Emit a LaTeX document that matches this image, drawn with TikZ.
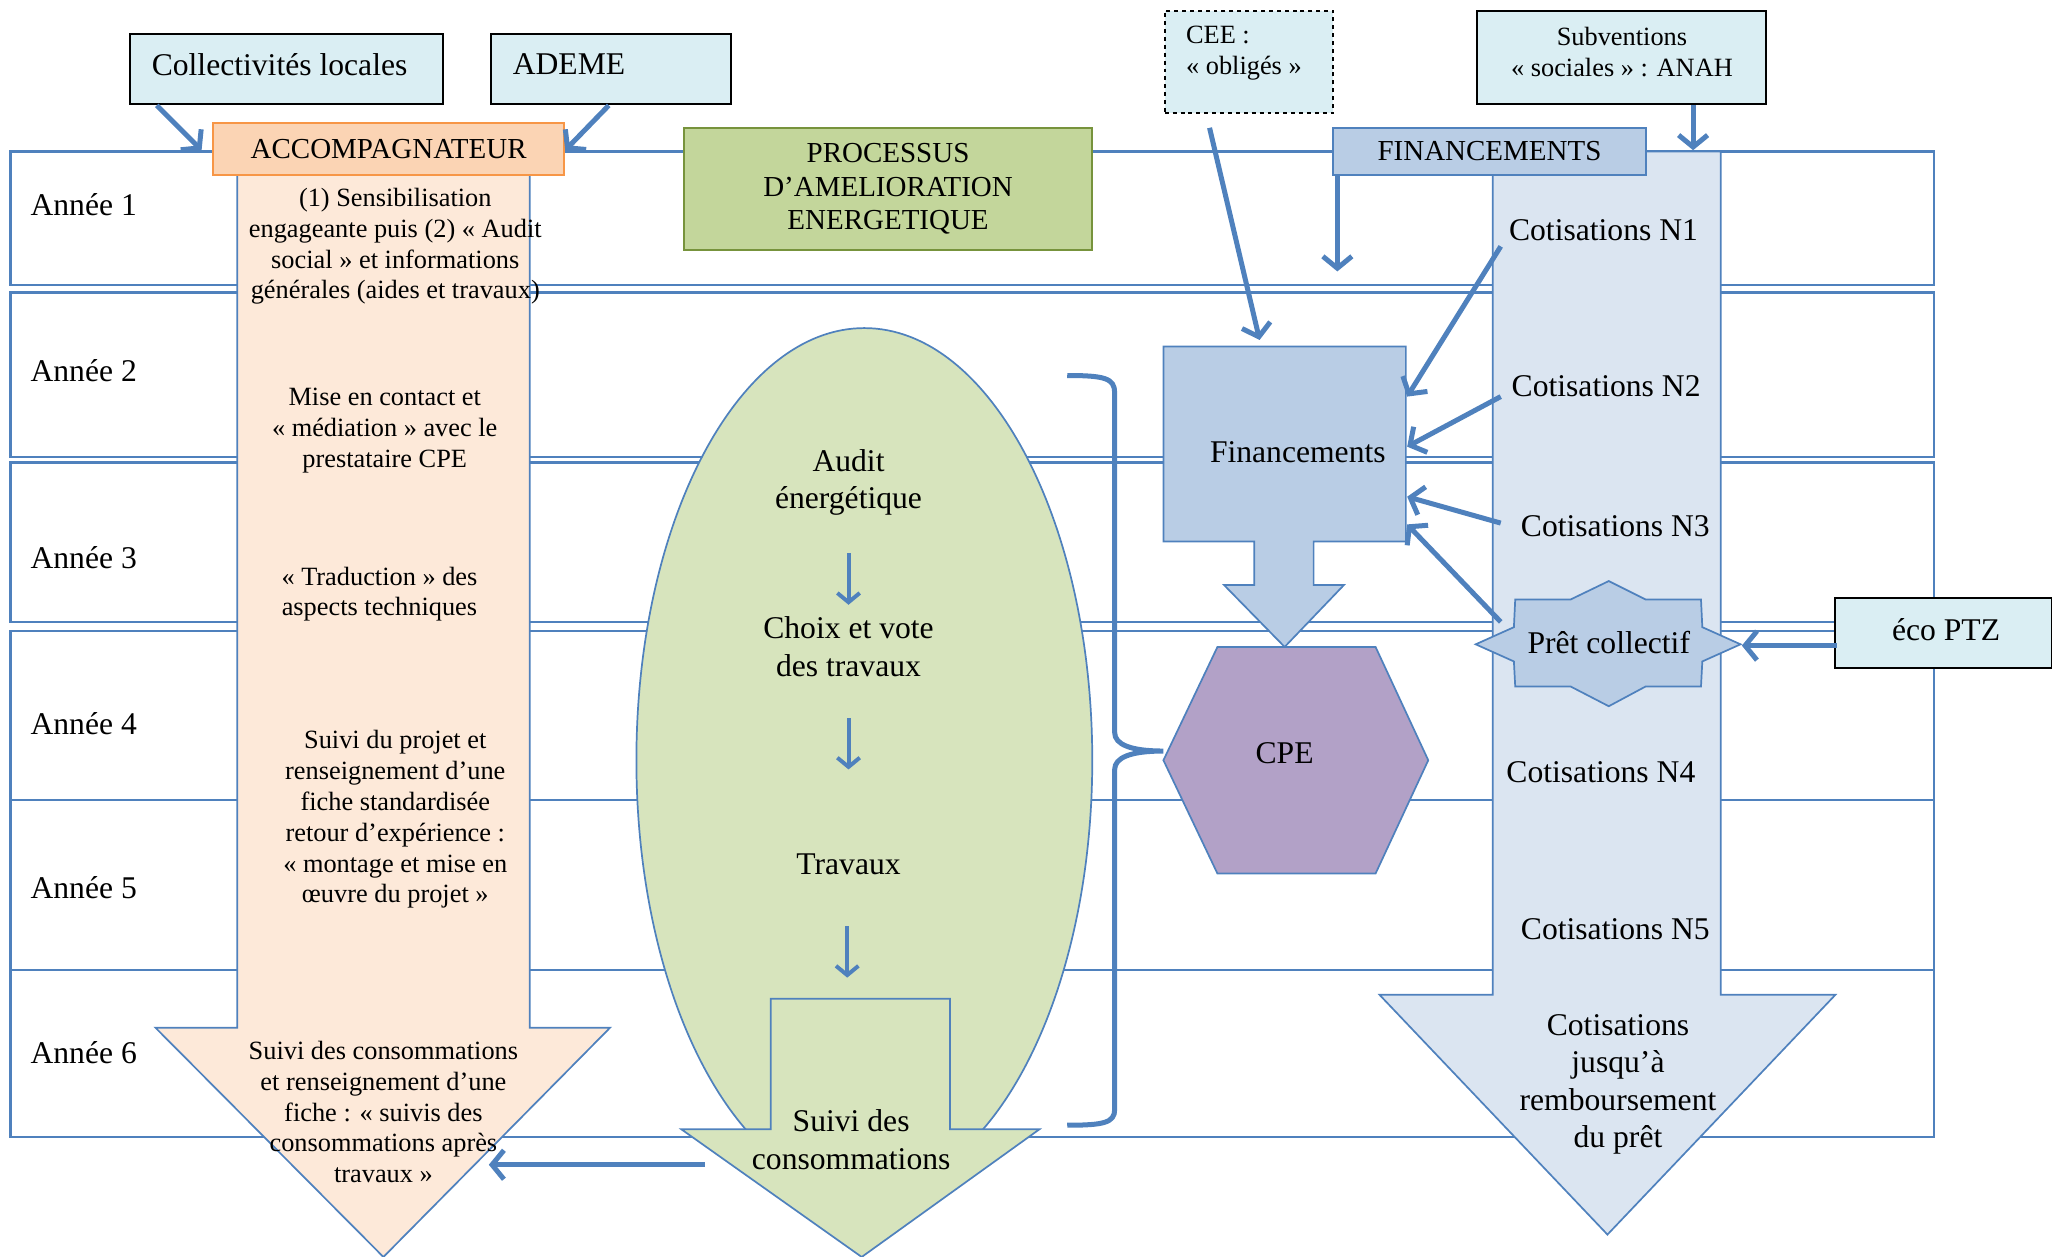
\documentclass[tikz,border=0pt]{standalone}
\usepackage{fontspec}
\setmainfont{Liberation Serif}
\usetikzlibrary{arrows.meta}
\definecolor{myblue}{HTML}{4F81BD}
\definecolor{extfill}{HTML}{DAEEF3}
\definecolor{peachH}{HTML}{FBD4B4}
\definecolor{orangeB}{HTML}{F79646}
\definecolor{peachL}{HTML}{FDE9D9}
\definecolor{greenH}{HTML}{C3D69B}
\definecolor{greenB}{HTML}{77933C}
\definecolor{greenL}{HTML}{D7E4BD}
\definecolor{finB}{HTML}{B9CDE5}
\definecolor{finL}{HTML}{DBE5F1}
\definecolor{cpeF}{HTML}{B2A1C7}
\begin{document}
\begin{tikzpicture}[x=1pt,y=-1pt,
  bigtxt/.style={font=\fontsize{24}{28.5}\selectfont, inner sep=0pt},
  smalltxt/.style={font=\fontsize{20}{23.4}\selectfont, inner sep=0pt, align=center},
  hdrtxt/.style={font=\fontsize{22}{25.5}\selectfont, align=center},
  yearbox/.style={draw=myblue, line width=1.6pt},
  shapeline/.style={draw=myblue, line width=1.3pt},
  extbox/.style={fill=extfill, draw=black, line width=1.5pt},
  conn/.style={draw=myblue, line width=3.8pt, -{Straight Barb[length=9pt,width=22pt]}},
  smallconn/.style={draw=myblue, line width=3pt, -{Straight Barb[length=7pt,width=17pt]}},
  brack/.style={draw=myblue, line width=3.8pt}
]
\useasboundingbox (0,0) rectangle (1565,954);

% year rows
\draw[yearbox] (8,115) rectangle (1468,216);
\draw[yearbox] (8,222) rectangle (1468,347);
\draw[yearbox] (8,351) rectangle (1468,472);
\draw[yearbox] (8,479) rectangle (1468,607);
\draw[yearbox] (8,607) rectangle (1468,736);
\draw[yearbox] (8,736) rectangle (1468,863);
\node[bigtxt, anchor=west] (y1) at (23,155) {Année 1};
\node[bigtxt, anchor=west] (y2) at (23,281) {Année 2};
\node[bigtxt, anchor=west] (y3) at (23,423) {Année 3};
\node[bigtxt, anchor=west] (y4) at (23,549) {Année 4};
\node[bigtxt, anchor=west] (y5) at (23,674) {Année 5};
\node[bigtxt, anchor=west] (y6) at (23,799) {Année 6};

% accompagnateur arrow
\draw[shapeline, fill=peachL] (180,132) -- (402,132) -- (402,780) -- (463,780) -- (291,954) -- (118,780) -- (180,780) -- cycle;
\node[smalltxt] (acc1) at (300,187) {(1) Sensibilisation\\engageante puis (2) « Audit\\social » et informations\\générales (aides et travaux)};
\node[smalltxt] (acc2) at (292,327) {Mise en contact et\\« médiation » avec le\\prestataire CPE};
\node[smalltxt] (acc3) at (288,451) {« Traduction » des\\aspects techniques};
\node[smalltxt] (acc4) at (300,622) {Suivi du projet et\\renseignement d’une\\fiche standardisée\\retour d’expérience :\\« montage et mise en\\œuvre du projet »};
\node[smalltxt] (acc5) at (291,844) {Suivi des consommations\\et renseignement d’une\\fiche : « suivis des\\consommations après\\travaux »};

% process ellipse
\draw[shapeline, fill=greenL] (656,577) ellipse [x radius=173, y radius=328];
\node[bigtxt, align=center] (audit) at (644,366) {Audit\\énergétique};
\node[bigtxt, align=center] (choix) at (644,491) {Choix et vote\\des travaux};
\node[bigtxt] (trav) at (644,656) {Travaux};
\coordinate (e1s) at (644,420); \coordinate (e1e) at (644,459);
\coordinate (e2s) at (644,545); \coordinate (e2e) at (644,584);
\coordinate (e3s) at (643,703); \coordinate (e3e) at (643,742);
\draw[smallconn] (e1s) -- (e1e);
\draw[smallconn] (e2s) -- (e2e);
\draw[smallconn] (e3s) -- (e3e);

% green arrow suivi
\draw[shapeline, fill=greenL] (585,758) -- (721,758) -- (721,857) -- (789,857) -- (654,954) -- (517,857) -- (585,857) -- cycle;
\node[bigtxt, align=center] (suivi) at (646,865) {Suivi des\\consommations};
\coordinate (s2a) at (535,884);
\coordinate (s2b) at (371,884);
\draw[conn] (s2a) -- (s2b);

% financements big arrow
\draw[shapeline, fill=finL] (1133,115) -- (1306,115) -- (1306,755) -- (1393,755) -- (1220,937) -- (1047,755) -- (1133,755) -- cycle;
\node[bigtxt] (n1) at (1217,175) {Cotisations N1};
\node[bigtxt] (n2) at (1219,293) {Cotisations N2};
\node[bigtxt] (n3) at (1226,399) {Cotisations N3};
\node[bigtxt] (n4) at (1215,586) {Cotisations N4};
\node[bigtxt] (n5) at (1226,705) {Cotisations N5};
\node[bigtxt, align=center] (nf) at (1228,823) {Cotisations\\jusqu’à\\remboursement\\du prêt};

% financements box with arrow
\draw[shapeline, fill=finB] (883,263) -- (1067,263) -- (1067,411) -- (997,411) -- (997,444) -- (1020,444) -- (975,491) -- (929,444) -- (952,444) -- (952,411) -- (883,411) -- cycle;
\node[bigtxt] (fin) at (985,343) {Financements};

% CPE hexagon
\draw[shapeline, fill=cpeF] (924,491) -- (1044,491) -- (1084,577) -- (1044,663) -- (924,663) -- (883,577) -- cycle;
\node[bigtxt] (cpe) at (975,572) {CPE};

% pret collectif star
\draw[shapeline, fill=finB] (1221,441) -- (1249,455) -- (1291,455) -- (1292,476) -- (1321,489) -- (1292,502) -- (1291,521) -- (1249,521) -- (1221,536) -- (1192,521) -- (1150,521) -- (1149,502) -- (1120,489) -- (1149,476) -- (1150,455) -- (1192,455) -- cycle;
\node[bigtxt] (pret) at (1221,488) {Prêt collectif};

% bracket
\draw[brack] (810,285) .. controls (838,285) and (846,287) .. (846,298) -- (846,556) .. controls (846,565) and (858,570) .. (883,570) .. controls (858,570) and (846,575) .. (846,584) -- (846,842) .. controls (846,852) and (838,854) .. (810,854);

% headers
\node[hdrtxt, fill=peachH, draw=orangeB, line width=1.5pt, minimum width=266pt, minimum height=39pt, inner sep=0pt] (acch) at (295,113) {ACCOMPAGNATEUR};
\node[hdrtxt, fill=greenH, draw=greenB, line width=1.5pt, minimum width=310pt, minimum height=93pt, inner sep=0pt] (proch) at (674,143.5) {PROCESSUS\\D’AMELIORATION\\ENERGETIQUE};
\node[hdrtxt, fill=finB, draw=myblue, line width=1.5pt, minimum width=237pt, minimum height=35pt, inner sep=0pt] (finh) at (1130.5,115) {FINANCEMENTS};

% external boxes
\node[extbox, minimum width=237pt, minimum height=53pt, inner sep=0pt] (coll) at (217.5,52.5) {};
\node[bigtxt, anchor=west] (collt) at (115,49) {Collectivités locales};
\node[extbox, minimum width=182pt, minimum height=53pt, inner sep=0pt] (ademe) at (464,52.5) {};
\node[bigtxt, anchor=west] (ademet) at (389,49) {ADEME};
\node[extbox, dashed, minimum width=128pt, minimum height=78pt, inner sep=0pt] (ceeb) at (948,47) {};
\node[smalltxt, align=left, anchor=west] (ceet) at (900,40) {CEE :\\« obligés »};
\node[extbox, minimum width=219pt, minimum height=71pt, inner sep=0pt] (subb) at (1230.5,43.5) {};
\node[smalltxt] (subt) at (1231,39.5) {Subventions\\« sociales » : ANAH};
\node[extbox, minimum width=164pt, minimum height=53pt, inner sep=0pt] (ptz) at (1475,480.5) {};
\node[bigtxt] (ptzt) at (1477,478) {éco PTZ};

% connectors
\coordinate (a1s) at (119,80); \coordinate (a1e) at (153,114);
\coordinate (a2s) at (462,80); \coordinate (a2e) at (429,114);
\coordinate (a3s) at (918,97); \coordinate (a3e) at (956,258);
\coordinate (a4s) at (1015,133); \coordinate (a4e) at (1015,206);
\coordinate (a5s) at (1285,80); \coordinate (a5e) at (1285,114);
\coordinate (b1s) at (1139,187); \coordinate (b1e) at (1068,301);
\coordinate (b2s) at (1139,301); \coordinate (b2e) at (1068,339);
\coordinate (b3s) at (1139,397); \coordinate (b3e) at (1068,377);
\coordinate (b4s) at (1139,472); \coordinate (b4e) at (1068,398);
\coordinate (p1s) at (1394,490); \coordinate (p1e) at (1322,490);
\draw[conn] (a1s) -- (a1e);
\draw[conn] (a2s) -- (a2e);
\draw[conn] (a3s) -- (a3e);
\draw[conn] (a4s) -- (a4e);
\draw[conn] (a5s) -- (a5e);
\draw[conn] (b1s) -- (b1e);
\draw[conn] (b2s) -- (b2e);
\draw[conn] (b3s) -- (b3e);
\draw[conn] (b4s) -- (b4e);
\draw[conn] (p1s) -- (p1e);
\end{tikzpicture}
\end{document}
